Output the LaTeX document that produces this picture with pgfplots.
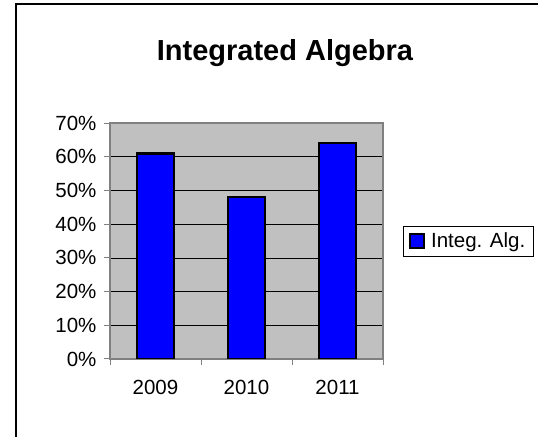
\documentclass[border=0pt]{standalone}
\usepackage{pgfplots}
\pgfplotsset{compat=1.18}
\usepackage{fontspec}
\setmainfont{Liberation Sans}
\definecolor{plotbg}{HTML}{C0C0C0}
\definecolor{axgray}{HTML}{808080}
\definecolor{barblue}{HTML}{0000FF}
\begin{document}
\begin{tikzpicture}[x=1bp,y=1bp]
\path[use as bounding box] (0bp,0bp) rectangle (538bp,437bp);
\draw[line width=1.5bp] (16bp,0bp) -- (16bp,433bp) -- (538bp,433bp);
\node[anchor=base, font=\fontsize{29bp}{33bp}\selectfont\bfseries] at (285bp,376bp) {Integrated Algebra};
\begin{axis}[at={(110bp,78bp)}, anchor=south west, scale only axis,
  width=273bp, height=236bp,
  xmin=-0.5, xmax=2.5, ymin=0, ymax=70,
  ybar, bar width=37bp,
  ytick={0,10,...,70},
  yticklabel={\pgfmathprintnumber{\tick}\%},
  yticklabel style={xshift=-4bp},
  xtick={-0.5,0.5,1.5,2.5},
  xticklabels={2009,2010,2011,},
  xticklabel style={xshift=45.5bp, yshift=-12bp},
  xtick pos=bottom, ytick pos=left,
  tick align=outside, major tick length=6bp,
  tick style={color=axgray, line width=1bp},
  axis line style={draw=axgray, line width=1.2bp},
  axis background/.style={fill=plotbg},
  ymajorgrids, major grid style={black, line width=0.7bp},
  /pgf/number format/assume math mode=true,
  ticklabel style={font=\fontsize{20.5bp}{24bp}\selectfont},
  legend style={at={(axis description cs:1.0733,0.5)}, anchor=west,
    draw=black, line width=0.6bp, font=\fontsize{20.5bp}{24bp}\selectfont,
    inner xsep=6bp, inner ysep=5bp,
    /tikz/every odd column/.append style={column sep=4bp}},
  legend image code/.code={\draw[fill=barblue, draw=black, line width=1.8bp] (0bp,-7bp) rectangle (14bp,7bp);},
]
\addplot[fill=barblue, draw=black, line width=2.4bp] coordinates {(0,61) (1,48) (2,64)};
\addlegendentry{Integ. Alg.}
\end{axis}
\end{tikzpicture}
\end{document}
